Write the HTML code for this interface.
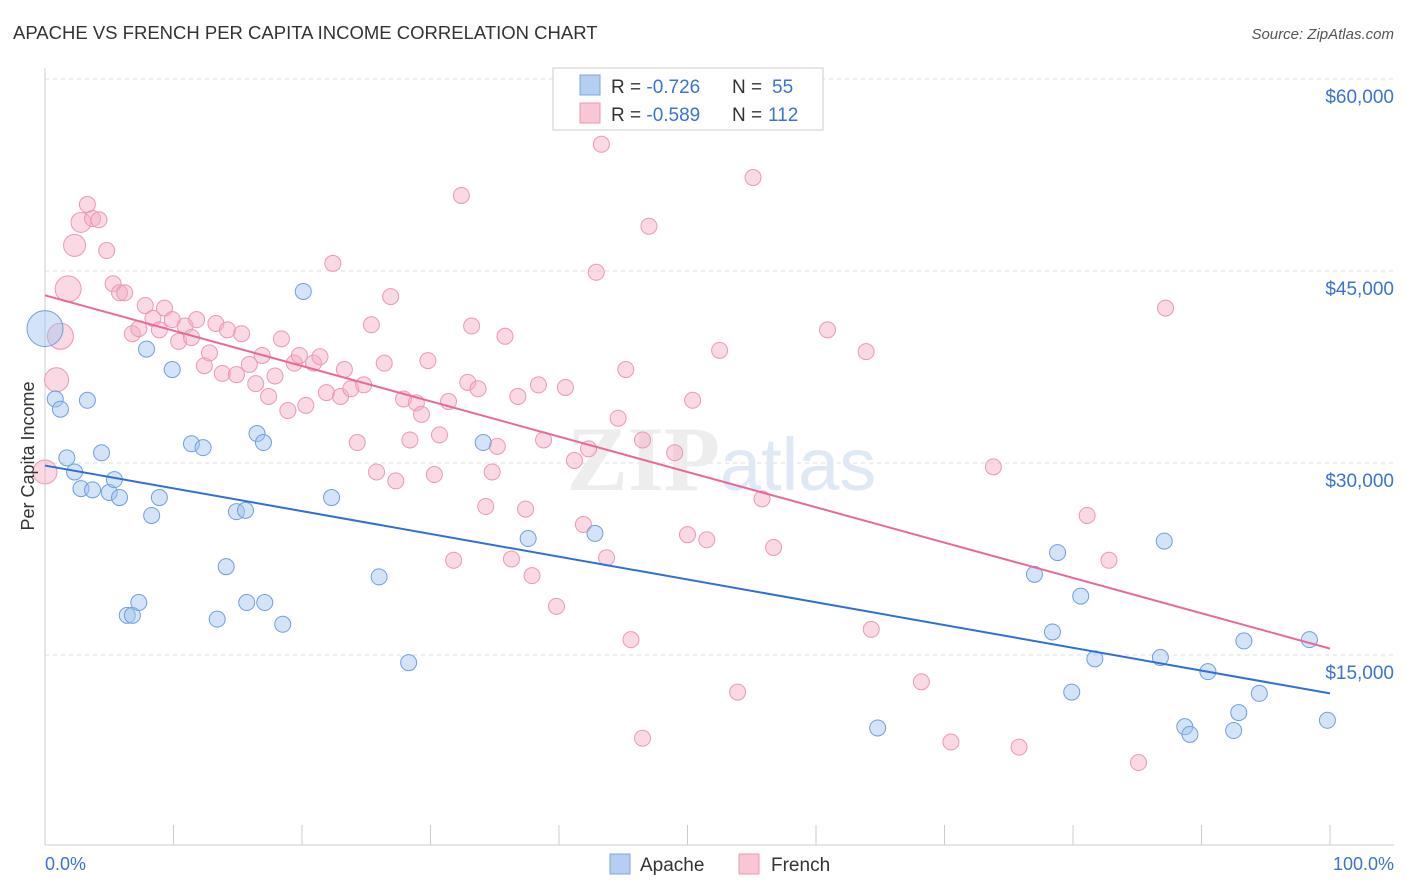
<!DOCTYPE html>
<html><head><meta charset="utf-8">
<style>
body{margin:0;background:#fff;font-family:"Liberation Sans",sans-serif;}
svg{display:block}
</style></head>
<body>
<svg id="chart" width="1406" height="892">
<text x="13" y="39" font-size="18.5" fill="#333">APACHE VS FRENCH PER CAPITA INCOME CORRELATION CHART</text>
<text x="1394" y="39" font-size="15" fill="#555" text-anchor="end" font-style="italic">Source: ZipAtlas.com</text>
<g id="grid"></g>
<text x="720" y="490" font-size="92" fill="#ededed" text-anchor="end" font-family="Liberation Serif" font-weight="bold">ZIP</text>
<text x="720" y="490" font-size="74" fill="#dfe9f6">atlas</text>
<g id="points"></g>
<g id="lines"></g>
<text transform="translate(34,456) rotate(-90)" font-size="18" fill="#333" text-anchor="middle">Per Capita Income</text>
<text x="45" y="870" font-size="18" fill="#3b73d1">0.0%</text>
<text x="1394" y="870" font-size="18" fill="#3b73d1" text-anchor="end">100.0%</text>
<g>
<rect x="553" y="68" width="270" height="62" fill="#fff" stroke="#ccc"/>
<rect x="580" y="75" width="20" height="20" fill="#b5cff2" stroke="#7aa6e0"/>
<rect x="580" y="103" width="20" height="20" fill="#f8c6d4" stroke="#ec98b2"/>
<text x="611" y="93" font-size="19" fill="#333">R = <tspan fill="#3b73d1">-0.726</tspan><tspan x="732">N = </tspan><tspan fill="#3b73d1" x="772">55</tspan></text>
<text x="611" y="121" font-size="19" fill="#333">R = <tspan fill="#3b73d1">-0.589</tspan><tspan x="732">N = </tspan><tspan fill="#3b73d1" x="768">112</tspan></text>
</g>
<g>
<rect x="610" y="854" width="20" height="20" fill="#b5cff2" stroke="#7aa6e0"/>
<text x="640" y="871" font-size="19" fill="#333">Apache</text></g>
<g>
<rect x="739" y="854" width="20" height="20" fill="#f8c6d4" stroke="#ec98b2"/>
<text x="771" y="871" font-size="19" fill="#333">French</text></g>
</svg>
<script>
const yTicks=[15000,30000,45000,60000];
const yTickLabels=["$15,000","$30,000","$45,000","$60,000"];
const apacheX=[0,0.8,1.2,1.7,2.3,2.8,3.3,3.7,4.4,5.0,5.4,5.8,6.4,6.8,7.3,7.9,8.3,8.9,9.9,11.4,12.3,13.4,14.1,14.9,15.6,15.7,16.5,17.0,17.1,18.5,20.1,22.3,26.0,28.3,34.1,37.6,42.8,64.8,77.0,78.4,78.8,79.9,80.6,81.7,86.8,87.1,88.7,89.1,90.5,92.5,92.9,93.3,94.5,98.4,99.8];
const apacheY=[40.5,35.0,34.2,30.4,29.3,28.0,34.9,27.9,30.8,27.7,28.7,27.3,18.1,18.1,19.1,38.9,25.9,27.3,37.3,31.5,31.2,17.8,21.9,26.2,26.3,19.1,32.3,31.6,19.1,17.4,43.4,27.3,21.1,14.4,31.6,24.1,24.5,9.3,21.3,16.8,23.0,12.1,19.6,14.7,14.8,23.9,9.4,8.8,13.7,9.1,10.5,16.1,12.0,16.2,9.9];
const frenchX=[0,0.9,1.2,1.8,2.3,2.8,3.3,3.7,4.2,4.8,5.3,5.8,6.2,6.8,7.3,7.8,8.4,8.9,9.3,9.9,10.4,10.9,11.4,11.8,12.4,12.8,13.3,13.8,14.2,14.9,15.3,15.9,16.4,16.9,17.4,17.9,18.4,18.9,19.4,19.8,20.3,20.9,21.4,21.9,22.4,23.0,23.3,23.8,24.3,24.8,25.4,25.8,26.4,26.9,27.3,27.9,28.4,28.9,29.3,29.8,30.3,30.7,31.4,31.8,32.4,32.9,33.2,33.7,34.3,34.8,35.2,35.8,36.3,36.8,37.4,37.9,38.4,38.8,39.8,40.5,41.2,41.9,42.3,42.9,43.3,43.7,44.6,45.2,45.6,46.5,46.5,47.0,49.0,50.0,50.4,51.5,52.5,53.9,55.1,55.8,56.7,60.9,63.9,64.3,68.2,70.5,73.8,75.8,81.1,82.8,85.1,87.2];
const frenchY=[29.3,36.5,39.9,43.6,47.0,48.8,50.2,49.1,49.0,46.6,44.0,43.3,43.3,40.1,40.5,42.3,41.3,40.4,42.1,41.2,39.5,40.7,39.8,41.2,37.6,38.6,40.9,37.0,40.4,36.9,40.1,37.7,36.2,38.4,35.2,36.8,39.7,34.1,37.8,38.4,34.5,37.8,38.3,35.5,45.6,35.2,37.3,35.8,31.6,36.1,40.8,29.3,37.8,43.0,28.6,35.0,31.8,34.7,33.8,38.0,29.1,32.2,34.8,22.4,50.9,36.3,40.7,35.8,26.6,29.3,31.3,39.9,22.5,35.2,26.4,21.2,36.1,31.8,18.8,35.9,30.2,25.2,31.1,44.9,54.9,22.6,33.5,37.3,16.2,31.8,8.5,48.5,30.8,24.4,34.9,24.0,38.8,12.1,52.3,27.2,23.4,40.4,38.7,17.0,12.9,8.2,29.7,7.8,25.9,22.4,6.6,42.1];
const apacheSizes=[18];
const frenchSizes=[12,12,13,13,11,10];
const trendApache=[29.8,12.0];
const trendFrench=[43.1,15.5];
const X0=45,X1=1330,YTOP=79,NS="http://www.w3.org/2000/svg";
function sx(p){return X0+(X1-X0)*p/100;}
function sy(v){return YTOP+(60000-v)/15000*192;}
function mk(t,a,parent){const e=document.createElementNS(NS,t);for(const k in a)e.setAttribute(k,a[k]);parent.appendChild(e);return e;}
const grid=document.getElementById('grid');
mk('line',{x1:45,y1:68,x2:45,y2:845,stroke:'#ccc'},grid);
mk('line',{x1:45,y1:845,x2:1394,y2:845,stroke:'#ccc'},grid);
yTicks.forEach((t,i)=>{
 const g=mk('line',{x1:45,y1:sy(t),x2:1394,y2:sy(t),stroke:'#ddd','stroke-dasharray':'4,4'},grid);
 
 
 const tx=mk('text',{x:1394,y:sy(t)+24,'font-size':19,fill:'#3b73d1','text-anchor':'end'},grid);
 tx.textContent=yTickLabels[i];
 
 
});
for(let i=0;i<=10;i++){const l=mk('line',{x1:sx(i*10),y1:825,x2:sx(i*10),y2:845,stroke:'#ccc'},grid);
 
 }
const pts=document.getElementById('points');
frenchX.forEach((x,i)=>{
 const c=mk('circle',{cx:sx(x),cy:sy(frenchY[i]*1000),r:frenchSizes[i]||8,fill:'rgba(245,170,195,0.45)',stroke:'#ec98b2','stroke-width':1},pts);
 
 
});
apacheX.forEach((x,i)=>{
 const c=mk('circle',{cx:sx(x),cy:sy(apacheY[i]*1000),r:apacheSizes[i]||8,fill:'rgba(160,195,240,0.45)',stroke:'#6f9fdc','stroke-width':1},pts);
 
 
});
const ln=document.getElementById('lines');
const la=mk('line',{x1:sx(0),y1:sy(trendApache[0]*1000),x2:sx(100),y2:sy(trendApache[1]*1000),stroke:'#2f6fd6','stroke-width':2},ln);


const lf=mk('line',{x1:sx(0),y1:sy(trendFrench[0]*1000),x2:sx(100),y2:sy(trendFrench[1]*1000),stroke:'#e8689a','stroke-width':2},ln);


</script>
</body></html>
